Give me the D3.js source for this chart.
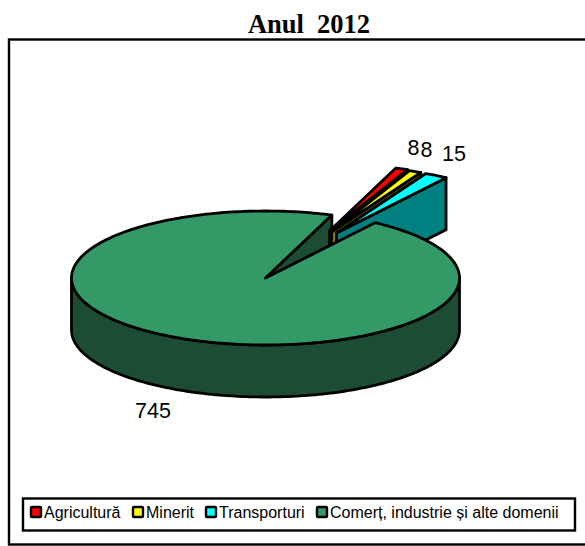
<!DOCTYPE html>
<html><head><meta charset="utf-8">
<script src="https://cdnjs.cloudflare.com/ajax/libs/d3/7.8.5/d3.min.js"></script>
<style>html,body{margin:0;padding:0;background:#fff}svg{display:block}</style></head>
<body><svg id="c" width="585" height="546"></svg>
<script>
const categories = ["Agricultură","Minerit","Transporturi","Comerț, industrie și alte domenii"];
const values = [8,8,15,745];
const topColors = ["#ff0000","#ffff00","#00ffff","#339966"];
const wallColors = ["#800000","#808000","#008080","#1c4c33"];

const W=585,H=546, cx=265.5, cy=278, rx=194, ry=67, depth=52;
const explode = [[64,-47],[66,-46],[71,-45],[0,0]];
const svg=d3.select("#c");
const rad=d=>d*Math.PI/180;
const arcs=d3.pie().sort(null).startAngle(rad(20)).endAngle(rad(380))(values);
const px=d3.scaleLinear().domain([-1,1]).range([cx-rx,cx+rx]);
const py=d3.scaleLinear().domain([-1,1]).range([cy-ry,cy+ry]);
const pt=(a,ox=0,oy=0,dz=0)=>[px(Math.sin(a))+ox,py(-Math.cos(a))+oy+dz];
const line=d3.line();
const sw=2.8;
const samples=(a0,a1)=>{const n=Math.max(2,Math.ceil(Math.abs(a1-a0)/0.02));return d3.range(n+1).map(i=>a0+(a1-a0)*i/n);};
function draw(points,fill){svg.append("path").attr("d",line(points)+"Z").attr("fill",fill).attr("stroke","#000").attr("stroke-width",sw).attr("stroke-linejoin","round");}

svg.append("rect").attr("x",9).attr("y",39.5).attr("width",585).attr("height",505).attr("fill","#fff").attr("stroke","#000").attr("stroke-width",2.4);
svg.append("text").attr("x",309).attr("y",33).attr("text-anchor","middle").attr("font-family","Liberation Serif").attr("font-weight","bold").attr("font-size",26.5).style("white-space","pre").text("Anul  2012");

const big=arcs[3];
const bigEnd=big.endAngle, bigStart=big.startAngle;
// back radial wall of the large slice
draw([[cx,cy],pt(bigEnd),pt(bigEnd,0,0,depth),[cx,cy+depth]],wallColors[3]);
// exploded slices
[0,1,2].forEach(i=>{
  const a=arcs[i],[ox,oy]=explode[i];
  const apex=[cx+ox,cy+oy];
  draw([apex,pt(a.endAngle,ox,oy),pt(a.endAngle,ox,oy,depth),[apex[0],apex[1]+depth]],wallColors[i]);
  draw([apex,...samples(a.startAngle,a.endAngle).map(t=>pt(t,ox,oy))],topColors[i]);
});
// front rim
const rimA=samples(rad(90),rad(270));
draw([...rimA.map(t=>pt(t)),...rimA.slice().reverse().map(t=>pt(t,0,0,depth))],wallColors[3]);
// top face
draw([[cx,cy],...samples(bigStart,bigEnd).map(t=>pt(t))],topColors[3]);

// value labels
const labelPos=[[413.5,155],[426.5,157],[454,161],[153,418]];
labelPos.forEach((p,i)=>svg.append("text").attr("x",p[0]).attr("y",p[1]).attr("text-anchor","middle").attr("font-family","Liberation Sans").attr("font-size",21.5).attr("fill","#000").text(values[i]));

// legend
svg.append("rect").attr("x",23).attr("y",498.5).attr("width",552).attr("height",32).attr("fill","#fff").attr("stroke","#000").attr("stroke-width",2.4);
const legendX=[31,133,206,317];
categories.forEach((c,i)=>{
  svg.append("rect").attr("x",legendX[i]).attr("y",507).attr("width",10).attr("height",10).attr("rx",1).attr("fill",topColors[i]).attr("stroke","#000").attr("stroke-width",2.4);
  svg.append("text").attr("x",legendX[i]+13).attr("y",518).attr("font-family","Liberation Sans").attr("font-size",16).attr("fill","#000").text(c);
});
</script></body></html>
